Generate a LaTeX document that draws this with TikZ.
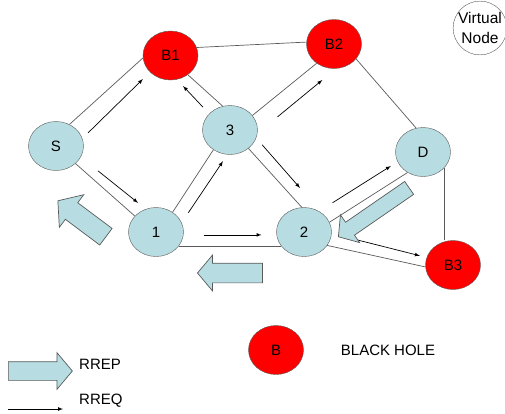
\documentclass[tikz,border=0pt]{standalone}
\usepackage{fontspec}
\setmainfont{Liberation Sans}
\usetikzlibrary{positioning}
\usetikzlibrary{shapes.geometric,shapes.arrows}

\definecolor{hostblue}{RGB}{183,221,226}
\definecolor{linegray}{RGB}{90,90,90}

\begin{document}
\begin{tikzpicture}[
    x=1pt, y=-1pt,
    on grid,
    font=\fontsize{15}{20}\selectfont,
    host/.style={draw=linegray,ellipse,fill=hostblue,minimum width=55pt,minimum height=49pt,inner sep=0pt},
    hole/.style={host,fill=red},
    link/.style={draw=linegray,line width=0.7pt},
    rreq/.style={-latex,line width=0.7pt},
    rrep/.style={single arrow,draw=linegray,fill=hostblue,line width=0.7pt,inner xsep=0pt,
      minimum width=0pt,single arrow head indent=0pt,single arrow tip angle=100}
    ]

    \useasboundingbox (0,0) rectangle (505,413);

    \node[host] (s) at (56,146) {S};
    \node[hole, above right=90.5pt and 114.5pt of s] (b1) {B1};
    \node[host, below right=74.5pt and 59.5pt of b1] (n3) {3};
    \node[host, below right=86pt and 100pt of s] (n1) {1};
    \node[host, right=148pt of n1] (n2) {2};
    \node[hole, above right=11.5pt and 163.5pt of b1] (b2) {B2};
    \node[host, below right=108pt and 89pt of b2] (d) {D};
    \node[hole, below right=33pt and 149pt of n2] (b3) {B3};
    \node[draw=linegray,circle,fill=white,minimum size=50pt,inner sep=0pt,align=center,
      font=\fontsize{15.5}{20}\selectfont,
      above right=16pt and 146pt of b2] (vn) {Virtual\\Node};

    % links
    \draw[link] (s.58) -- (b1.185);
    \draw[link] (b1.17) -- (b2.176);
    \draw[link] (b1.-48) -- (n3.107);
    \draw[link] (n3.33) -- (b2.228);
    \draw[link] (n3.230) -- (n1.50);
    \draw[link] (n3.-45) -- (n2.95);
    \draw[link] (s.-42) -- (n1.143);
    \draw[link] (n1.-32) -- (n2.212);
    \draw[link] (b2.-34) -- (d.106);
    \draw[link] (d.-37) -- (d.-37 |- b3.north);
    \draw[link] (n2.21) -- (d.233);
    \draw[link] (n2.-30) -- (b3.184);

    % route request
    \draw[rreq, shorten <=8pt, shorten >=10pt] (s.16) -- (b1.219);
    \draw[rreq, shorten <=22pt, shorten >=10pt] (s.-24) -- (n1.114);
    \draw[rreq, shorten <=9pt, shorten >=9pt] (n3.142) -- (b1.-75);
    \draw[rreq, shorten <=12pt, shorten >=8pt] (n1.20) -- (n3.264);
    \draw[rreq, shorten <=26pt, shorten >=18pt] (n3.-7) -- (b2.-85);
    \draw[rreq, shorten <=9pt, shorten >=34pt] (n3.-17) -- (n2.45);
    \draw[rreq, shorten <=20pt, shorten >=15pt] (n1.-6) -- (n2.186);
    \draw[rreq, shorten <=16pt, shorten >=8pt] (n2.54) -- (d.201);
    \draw[rreq, shorten <=27pt, shorten >=7pt] (n2.-3) -- (b3.164);

    % route reply
    \node[rrep, inner ysep=7.5pt, single arrow head extend=9pt, minimum height=86pt,
      rotate=214.6, anchor=tip] (rpd) at (338,237) {};
    \node[rrep, inner ysep=9.5pt, single arrow head extend=8pt, minimum height=65pt,
      rotate=180, anchor=tip] (rp2) at (197,273) {};
    \node[rrep, inner ysep=10pt, single arrow head extend=10pt, minimum height=60pt,
      rotate=143.2, anchor=tip] (rp1) at (57.5,200.5) {};

    % legend
    \node[hole, below left=118pt and 28pt of n2] (lb) {B};
    \node[right=112pt of lb] (lbtext) {BLACK HOLE};
    \node[rrep, inner ysep=9pt, single arrow head extend=9pt, minimum height=64pt,
      anchor=tail] (lrep) at (8,371) {};
    \node[anchor=west,inner sep=0pt] (lreptext) at (79,364) {RREP};
    \coordinate (lqa) at (8,409);
    \coordinate (lqb) at (63,409);
    \draw[rreq] (lqa) -- (lqb);
    \node[anchor=west,inner sep=0pt] (lreqtext) at (79,401) {RREQ};

\end{tikzpicture}
\end{document}
